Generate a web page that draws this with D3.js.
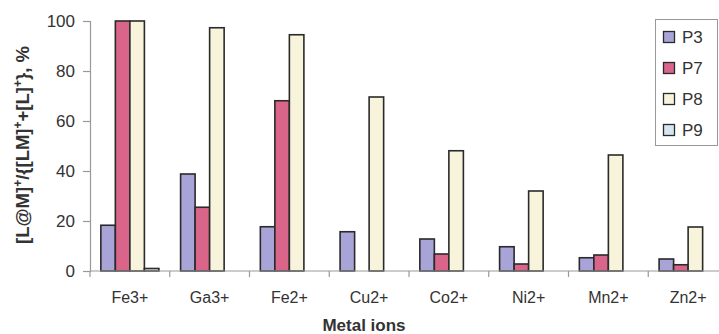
<!DOCTYPE html>
<html>
<head>
<meta charset="utf-8">
<script src="https://cdn.jsdelivr.net/npm/d3@7"></script>
<style>
  html, body { margin: 0; padding: 0; background: #fff; }
  svg { display: block; font-family: "Liberation Sans", Arial, sans-serif; }
</style>
</head>
<body>
<svg id="chart" width="719" height="334"></svg>
<script>
// Fraction of complexed ligand for each metal ion and probe
const categories = ["Fe3+", "Ga3+", "Fe2+", "Cu2+", "Co2+", "Ni2+", "Mn2+", "Zn2+"];
const seriesNames = ["P3", "P7", "P8", "P9"];
const P3 = [18.3, 38.8, 17.7, 15.7, 12.8, 9.7, 5.3, 4.8];
const P7 = [100, 25.5, 68.1, 0, 6.8, 2.8, 6.4, 2.5];
const P8 = [100, 97.3, 94.5, 69.6, 48.1, 32.0, 46.4, 17.6];
const P9 = [1.0, 0, 0, 0, 0, 0, 0, 0];
const yTicks = [0, 20, 40, 60, 80, 100];
const colors = ["#a9a4d8", "#d9658a", "#f8f4dc", "#d7e5f0"];

const series = [P3, P7, P8, P9];

const svg = d3.select("#chart");
const plotLeft = 90, plotRight = 728, plotTop = 21, plotBottom = 271;

const x0 = d3.scaleBand().domain(categories).range([plotLeft, plotRight])
  .paddingInner(0.272).paddingOuter(0.136);
const x1 = d3.scaleBand().domain(seriesNames).range([0, x0.bandwidth()]);
const y = d3.scaleLinear().domain([0, 100]).range([plotBottom, plotTop]);

// bars
const groups = svg.append("g").selectAll("g")
  .data(categories)
  .join("g")
  .attr("transform", d => `translate(${x0(d)},0)`);

groups.selectAll("rect")
  .data((c, i) => seriesNames.map((s, j) => ({ s, j, v: series[j][i] })).filter(d => d.v > 0))
  .join("rect")
  .attr("x", d => x1(d.s))
  .attr("y", d => y(d.v))
  .attr("width", x1.bandwidth())
  .attr("height", d => y(0) - y(d.v))
  .attr("fill", d => colors[d.j])
  .attr("stroke", "#2a2a2a")
  .attr("stroke-width", 1.6);

// y axis
const yAxis = svg.append("g")
  .attr("transform", `translate(${plotLeft},0)`)
  .call(d3.axisLeft(y).tickValues(yTicks).tickSize(7).tickPadding(8));
yAxis.select(".domain").attr("stroke", "#999").attr("stroke-width", 1.2);
yAxis.selectAll(".tick line").attr("stroke", "#999").attr("stroke-width", 1.2);
yAxis.selectAll(".tick text")
  .attr("font-size", 17).attr("fill", "#333")
  .attr("font-family", "Liberation Sans, Arial, sans-serif");

// x axis: ticks at category boundaries
const xAxisG = svg.append("g").attr("transform", `translate(0,${plotBottom})`);
xAxisG.append("line")
  .attr("x1", plotLeft).attr("x2", plotRight).attr("y1", 0).attr("y2", 0)
  .attr("stroke", "#999").attr("stroke-width", 1.2);
const step = x0.step();
const boundaries = d3.range(categories.length + 1).map(i => plotLeft + i * step);
xAxisG.selectAll("line.tk")
  .data(boundaries)
  .join("line")
  .attr("class", "tk")
  .attr("x1", d => d).attr("x2", d => d)
  .attr("y1", 0).attr("y2", 6)
  .attr("stroke", "#999").attr("stroke-width", 1.2);
xAxisG.selectAll("text")
  .data(categories)
  .join("text")
  .attr("x", d => x0(d) + x0.bandwidth() / 2)
  .attr("y", 31.5)
  .attr("text-anchor", "middle")
  .attr("font-size", 16)
  .attr("fill", "#333")
  .text(d => d);

// axis titles
svg.append("text")
  .attr("x", 364)
  .attr("y", 331)
  .attr("text-anchor", "middle")
  .attr("font-size", 17)
  .attr("font-weight", "bold")
  .attr("fill", "#333")
  .text("Metal ions");

const yt = svg.append("text")
  .attr("transform", "translate(29,145) rotate(-90)")
  .attr("text-anchor", "middle")
  .attr("font-size", 18.5)
  .attr("font-weight", "bold")
  .attr("fill", "#333");
const parts = [["[L@M]", false], ["+", true], ["/{[LM]", false], ["+", true], ["+[L]", false], ["+", true], ["}, %", false]];
parts.forEach(([t, sup]) => {
  const ts = yt.append("tspan").text(t);
  if (sup) ts.attr("baseline-shift", "super").attr("font-size", 12);
});

// legend
const lg = svg.append("g");
lg.append("rect")
  .attr("x", 655.5).attr("y", 19.5).attr("width", 62).attr("height", 126)
  .attr("fill", "#fff").attr("stroke", "#999").attr("stroke-width", 1);
seriesNames.forEach((s, j) => {
  const cy = 37 + j * 31;
  lg.append("rect")
    .attr("x", 663.5).attr("y", cy - 5.5).attr("width", 11).attr("height", 11)
    .attr("fill", colors[j]).attr("stroke", "#2a2a2a").attr("stroke-width", 1.3);
  lg.append("text")
    .attr("x", 682).attr("y", cy + 6)
    .attr("font-size", 17).attr("fill", "#333")
    .text(s);
});
</script>
</body>
</html>
